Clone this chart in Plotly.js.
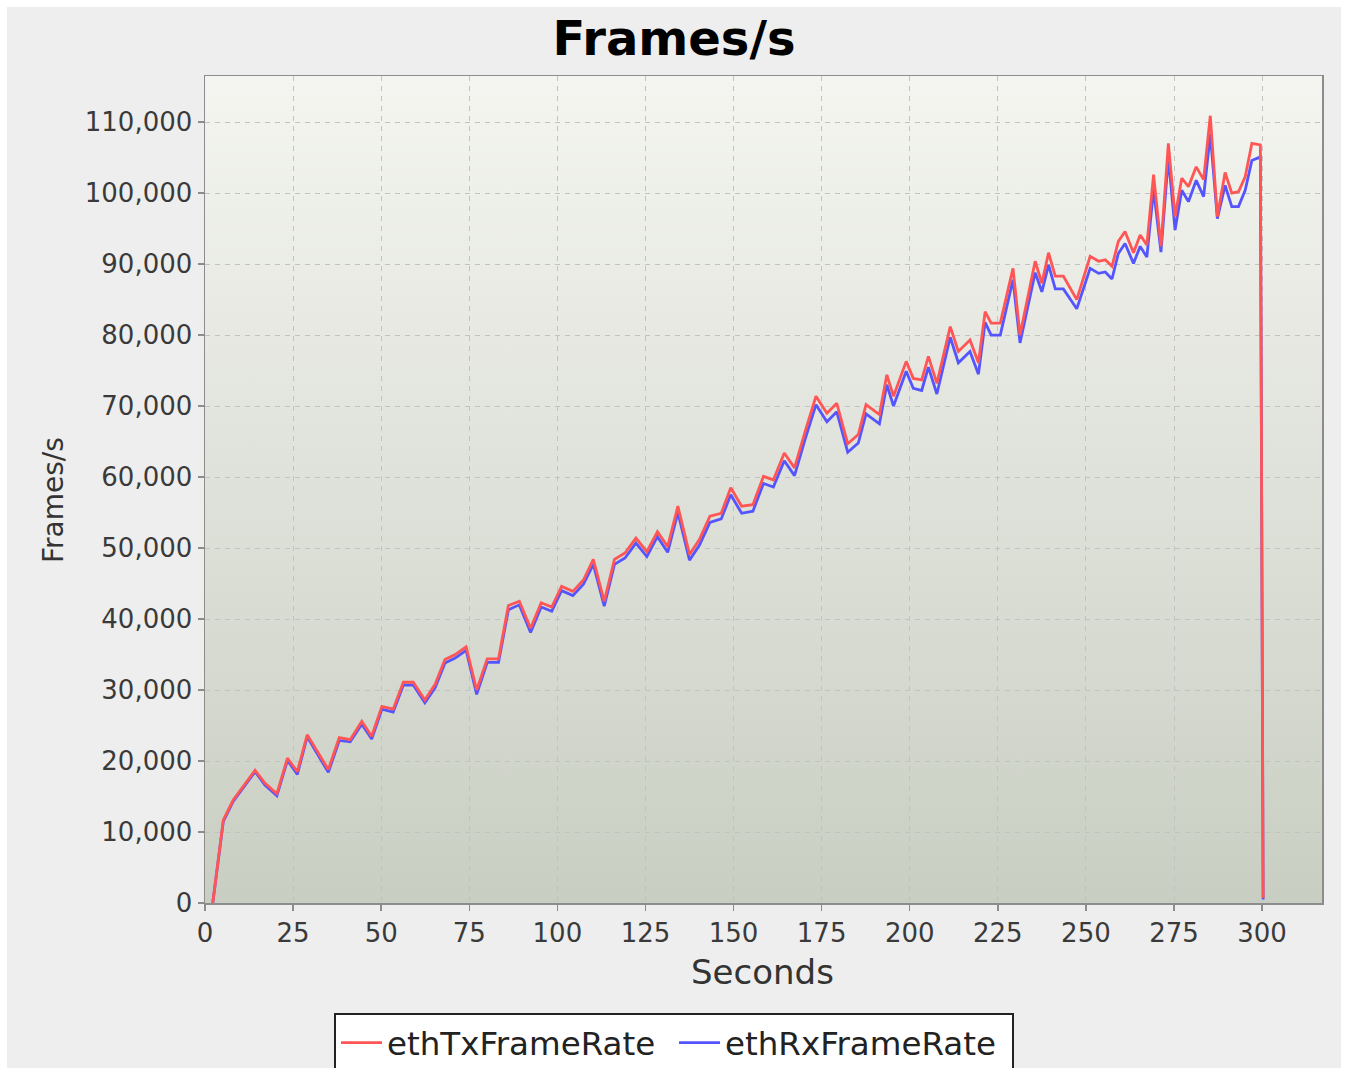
<!DOCTYPE html>
<html>
<head>
<meta charset="utf-8">
<script src="https://cdn.plot.ly/plotly-3.0.1.min.js"></script>
<style>
  html, body { margin: 0; padding: 0; background: #ffffff; }
  #chart { position: absolute; left: 7px; top: 7px; width: 1334px; height: 1061px; }
</style>
</head>
<body>
<div id="chart"></div>
<script>
// Time in seconds
const seconds = [2.2, 5.2, 8.0, 10.9, 14.2, 17.0, 20.4, 23.4, 26.2, 29.0,
  32.0, 35.0, 38.1, 41.2, 44.5, 47.3, 50.2, 53.4, 56.3, 59.1,
  62.4, 65.3, 68.1, 71.0, 74.1, 77.1, 80.1, 83.3, 86.1, 89.2,
  92.4, 95.4, 98.4, 101.2, 104.4, 107.4, 110.2, 113.3, 116.2, 119.2,
  122.3, 125.4, 128.4, 131.3, 134.2, 137.5, 140.3, 143.3, 146.5, 149.2,
  152.3, 155.5, 158.5, 161.3, 164.4, 167.3, 170.3, 173.4, 176.5, 179.3,
  182.4, 185.4, 187.6, 191.4, 193.5, 195.4, 199.0, 201.0, 203.4, 205.3,
  207.7, 211.5, 213.8, 217.1, 219.5, 221.4, 223.1, 225.7, 229.3, 231.3,
  235.6, 237.5, 239.4, 241.3, 243.6, 247.4, 251.2, 253.6, 255.5, 257.4,
  259.2, 261.1, 263.5, 265.4, 267.3, 269.2, 271.3, 273.4, 275.3, 277.2,
  279.1, 281.3, 283.4, 285.3, 287.3, 289.5, 291.4, 293.3, 295.2, 297.1,
  299.5, 300.3];

// ethTxFrameRate values
const ethTxFrameRate = [0, 11700, 14500, 16500, 18700, 16900, 15400, 20400, 18500, 23700,
  21300, 18800, 23300, 23000, 25600, 23500, 27700, 27300, 31100, 31100,
  28600, 30800, 34300, 35000, 36100, 30000, 34400, 34400, 41900, 42500,
  38700, 42300, 41700, 44600, 43900, 45500, 48400, 42500, 48400, 49300,
  51400, 49500, 52300, 50200, 55900, 49100, 51200, 54500, 54900, 58500,
  55900, 56100, 60100, 59600, 63400, 61300, 66400, 71400, 69000, 70400,
  64700, 66000, 70200, 68800, 74400, 71400, 76300, 73900, 73700, 77000,
  73200, 81200, 77700, 79300, 76100, 83300, 81700, 81700, 89400, 80000,
  90400, 87300, 91600, 88300, 88300, 85000, 91100, 90400, 90600, 89700,
  93200, 94600, 91600, 94100, 92700, 102600, 92500, 107000, 96700, 102100,
  100900, 103700, 101900, 110900, 96700, 102900, 100000, 100200, 102300, 107000,
  106800, 700];

// ethRxFrameRate values
const ethRxFrameRate = [0, 11500, 14300, 16300, 18500, 16600, 15100, 20100, 18100, 23400,
  21000, 18400, 22900, 22700, 25200, 23100, 27300, 26900, 30700, 30700,
  28200, 30300, 33800, 34500, 35600, 29400, 33900, 33900, 41300, 42000,
  38100, 41700, 41100, 44000, 43300, 44900, 47700, 41800, 47700, 48600,
  50700, 48800, 51600, 49400, 55000, 48300, 50400, 53600, 54100, 57500,
  54900, 55200, 59100, 58600, 62300, 60200, 65300, 70200, 67800, 69200,
  63500, 64800, 68900, 67500, 73000, 70000, 74900, 72500, 72200, 75500,
  71700, 79700, 76100, 77700, 74500, 81800, 80000, 80000, 87800, 78900,
  88800, 86100, 89900, 86500, 86500, 83700, 89400, 88700, 88900, 87900,
  91500, 92900, 90100, 92500, 91000, 100500, 91700, 105000, 94800, 100400,
  98800, 101800, 99500, 108300, 96400, 101100, 98100, 98100, 100400, 104600,
  105100, 500];

const xTicks = [0, 25, 50, 75, 100, 125, 150, 175, 200, 225, 250, 275, 300];
const yTicks = [0, 10000, 20000, 30000, 40000, 50000, 60000, 70000, 80000, 90000, 100000, 110000];

const FONT = 'DejaVu Sans, Verdana, sans-serif';

const bgSvg = '<svg xmlns="http://www.w3.org/2000/svg" width="100" height="100" preserveAspectRatio="none">' +
  '<defs><linearGradient id="g" x1="0" y1="0" x2="0" y2="1">' +
  '<stop offset="0" stop-color="#f4f5f0"/><stop offset="1" stop-color="#c9cec2"/>' +
  '</linearGradient></defs><rect x="0" y="0" width="100" height="100" fill="url(#g)"/></svg>';
const bgSrc = 'data:image/svg+xml;charset=utf-8,' + encodeURIComponent(bgSvg);

const traces = [
  {
    x: seconds, y: ethRxFrameRate, name: 'ethRxFrameRate', type: 'scatter', mode: 'lines',
    line: { color: 'rgb(85,85,255)', width: 2.8 }, legendrank: 2
  },
  {
    x: seconds, y: ethTxFrameRate, name: 'ethTxFrameRate', type: 'scatter', mode: 'lines',
    line: { color: 'rgb(255,85,85)', width: 2.8 }, legendrank: 1
  }
];

const axisCommon = {
  showgrid: true, gridcolor: '#c2c2c2', griddash: '5px,5px', gridwidth: 1,
  zeroline: false, showline: true, linecolor: '#8c8c8c', linewidth: 1.5, mirror: true,
  ticks: 'outside', ticklen: 6, tickcolor: '#8c8c8c', tickwidth: 1.5,
  tickfont: { family: FONT, size: 26, color: '#3a3a3a' },
  automargin: false, fixedrange: true
};

const layout = {
  width: 1334, height: 1061,
  paper_bgcolor: '#eeeeee',
  plot_bgcolor: 'rgba(0,0,0,0)',
  margin: { l: 198, r: 19, t: 69, b: 165, autoexpand: false },
  title: {
    text: '<b>Frames/s</b>',
    font: { family: FONT, size: 48, color: '#000000' },
    xref: 'container', x: 0.5, xanchor: 'center',
    yref: 'container', y: 1 - 31 / 1061, yanchor: 'middle'
  },
  xaxis: Object.assign({}, axisCommon, {
    range: [0, 317], tickmode: 'array', tickvals: xTicks, ticktext: xTicks.map(String)
  }),
  yaxis: Object.assign({}, axisCommon, {
    range: [0, 116500], tickmode: 'array', tickvals: yTicks,
    ticktext: yTicks.map(v => v.toLocaleString('en-US'))
  }),
  images: [{
    source: bgSrc, xref: 'paper', yref: 'paper', x: 0, y: 1, sizex: 1, sizey: 1,
    xanchor: 'left', yanchor: 'top', sizing: 'stretch', layer: 'below'
  }],
  annotations: [
    {
      text: 'Seconds', xref: 'paper', yref: 'paper', x: 0.4995, y: -(972 - 903) / 827,
      xanchor: 'center', yanchor: 'middle', showarrow: false,
      font: { family: FONT, size: 34, color: '#333333' }
    },
    {
      text: 'Frames/s', xref: 'paper', yref: 'paper', x: (53 - 205) / 1117, y: (903 - 500) / 827,
      xanchor: 'center', yanchor: 'middle', showarrow: false, textangle: -90,
      font: { family: FONT, size: 28, color: '#333333' }
    }
  ],
  showlegend: true,
  legend: {
    orientation: 'h', xref: 'container', yref: 'container',
    x: 0.5, xanchor: 'center', y: 1 - (1013 - 7) / 1061, yanchor: 'top',
    bgcolor: '#ffffff', bordercolor: '#222222', borderwidth: 2,
    font: { family: FONT, size: 32.5, color: '#222222' },
    itemwidth: 41, entrywidth: 282, entrywidthmode: 'pixels'
  }
};

Plotly.newPlot('chart', traces, layout, { displayModeBar: false, staticPlot: true });
</script>
</body>
</html>
